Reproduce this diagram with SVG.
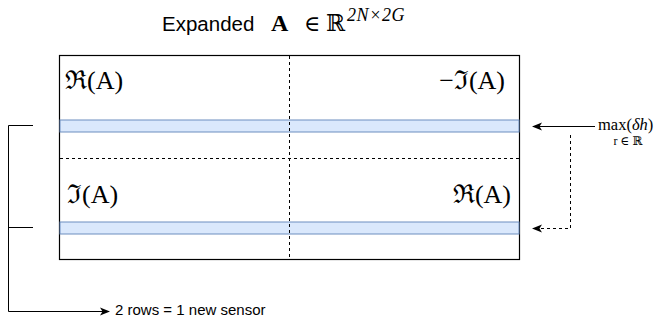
<svg xmlns="http://www.w3.org/2000/svg" width="669" height="320" viewBox="0 0 669 320">
<style>
.sans{font-family:"Liberation Sans",Arial,sans-serif;fill:#000}
.math{font-family:"Liberation Serif","DejaVu Serif",serif;fill:#000}
.line{fill:none;stroke:#000;stroke-width:1}
.dash{fill:none;stroke:#000;stroke-width:1;stroke-dasharray:3 3}
.band{fill:#dae8fc;stroke:#6c8ebf;stroke-width:1}
</style>
<defs>
<marker id="ah" viewBox="0 0 10 10" refX="9" refY="5" markerWidth="10" markerHeight="10" markerUnits="userSpaceOnUse" orient="auto">
<path d="M0,1 L10,5 L0,9 L2.5,5 Z" fill="#000"/>
</marker>
</defs>
<g id="title">
<text class="sans" x="162" y="31" font-size="20.5">Expanded</text>
<text class="math" x="271" y="31" font-size="24" font-weight="bold">A</text>
<text class="math" x="304" y="31" font-size="22">∈</text>
<text class="math" x="326" y="31" font-size="23">ℝ</text>
<text class="math" x="347" y="21" font-size="18" font-style="italic" letter-spacing="0.6">2N×2G</text>
</g>
<g id="matrix">
<rect x="59.5" y="55.5" width="460" height="204" fill="#fff" stroke="#000" stroke-width="1.2"/>
<rect class="band" x="60" y="120" width="459" height="12"/>
<rect class="band" x="60" y="222" width="459" height="12"/>
<line class="dash" x1="289.5" y1="56" x2="289.5" y2="259"/>
<line class="dash" x1="60" y1="158.5" x2="519" y2="158.5"/>
</g>
<g id="labels">
<text class="math" x="65" y="89" font-size="26">ℜ(A)</text>
<text class="math" x="505" y="89" font-size="26" text-anchor="end">−ℑ(A)</text>
<text class="math" x="67" y="203" font-size="26">ℑ(A)</text>
<text class="math" x="511" y="203" font-size="26" text-anchor="end">ℜ(A)</text>
</g>
<g id="right-labels">
<text class="math" x="598" y="130" font-size="16.5">max(<tspan font-style="italic">δh</tspan>)</text>
<text class="math" x="628" y="145" font-size="12" text-anchor="middle">r ∈ ℝ</text>
</g>
<g id="bottom-label">
<text class="sans" x="115" y="315" font-size="15">2 rows = 1 new sensor</text>
</g>
<g id="connectors">
<polyline class="line" points="33,125.5 8.5,125.5 8.5,311.5 109,311.5" marker-end="url(#ah)"/>
<line class="line" x1="8.5" y1="227.5" x2="33" y2="227.5"/>
<line class="line" x1="595" y1="126.5" x2="533" y2="126.5" marker-end="url(#ah)"/>
<polyline class="dash" points="570.5,135 570.5,228.5 533,228.5" marker-end="url(#ah)"/>
</g>
</svg>
